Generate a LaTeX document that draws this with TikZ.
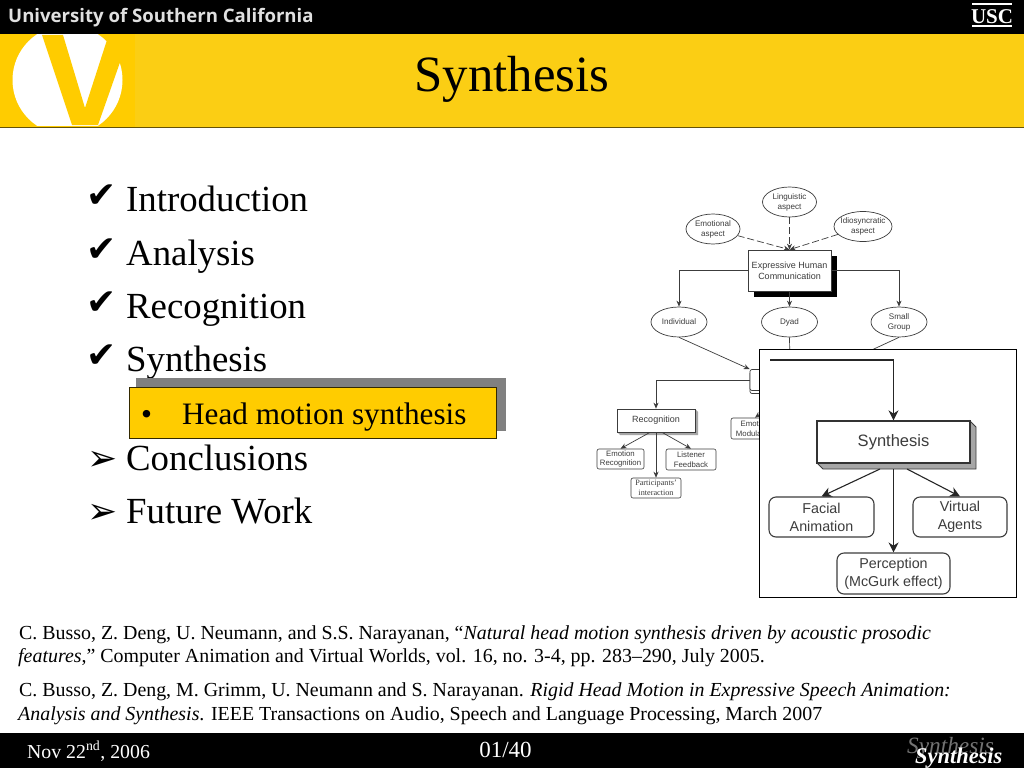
\documentclass[tikz,border=0pt]{standalone}
\usepackage{fontspec}
\setmainfont{Liberation Serif}
\newfontfamily\diagfont{Liberation Sans}
\newfontfamily\dingfont{DejaVu Sans}
\newfontfamily\bannerfont{Open Sans}
\usetikzlibrary{shapes.geometric, arrows.meta}
\definecolor{bandyellow}{HTML}{FBCE14}
\definecolor{logoyellow}{HTML}{FFCC00}
\definecolor{diagink}{HTML}{3C3C3C}
\tikzset{
  bullettext/.style={anchor=base west,font=\fontsize{36.8}{40}\selectfont},
  bulletmark/.style={anchor=base west,font=\dingfont\fontsize{36}{38}\selectfont},
  reftext/.style={anchor=base west,font=\fontsize{19.9}{22}\selectfont},
  smallell/.style={draw=diagink,line width=0.7pt,ellipse,inner xsep=-8pt,inner ysep=-4pt,align=center,text=diagink,font=\diagfont\fontsize{8.1}{10}\selectfont},
  smallbox/.style={draw=diagink,line width=0.6pt,rounded corners=2pt,inner sep=0pt,align=center,text=diagink,font=\diagfont\fontsize{7.8}{9.8}\selectfont},
  bigbox/.style={draw=diagink,line width=1.1pt,rounded corners=7pt,inner sep=0pt,align=center,text=diagink,font=\diagfont\fontsize{14.3}{18}\selectfont},
  smallarrow/.style={draw=diagink,line width=0.7pt,-{Stealth[length=6pt,width=5pt]}},
  dasharrow/.style={draw=diagink,line width=0.7pt,dash pattern=on 7pt off 3pt,-{Stealth[length=6pt,width=5pt]}},
  bigarrow/.style={draw=black!85,line width=1.1pt,-{Stealth[length=10pt,width=10pt]}}
}
\begin{document}
\begin{tikzpicture}[x=1pt,y=-1pt]
  \useasboundingbox (0,0) rectangle (1024,768);

  % Draw header band and footer band
  \fill[white] (0,0) rectangle (1024,768);
  \fill[black] (0,0) rectangle (1024,34.5);
  \fill[bandyellow] (0,34.5) rectangle (1024,127);
  \fill[logoyellow] (0,34.5) rectangle (135,127);
  \draw[black!60!bandyellow,line width=1.2pt] (0,127.5) -- (1024,127.5);
  \fill[black] (0,733) rectangle (1024,768);

  % Draw the logo
  \begin{scope}
    \clip (0,35) rectangle (135,125);
    \fill[white] (67.5,80) circle (55);
    \fill[logoyellow] (42,35) -- (63,35) -- (85,108) -- (108.6,35) -- (129.6,35) -- (98,125) -- (72,125) -- cycle;
  \end{scope}

  % Add banner texts
  \node[anchor=base west,inner sep=0pt,text=black!12,font=\bannerfont\bfseries\fontsize{18.6}{20}\selectfont] (bannertext) at (8,22.5) {University of Southern California};
  \fill[white] (972,3.5) rectangle (1012,5);
  \fill[white] (972,25.5) rectangle (1012,27.5);
  \node[anchor=base,inner sep=0pt,text=white,font=\bfseries\fontsize{21}{22}\selectfont] (usclogo) at (992,23.5) {USC};
  \node[anchor=base,inner sep=0pt,font=\fontsize{50.8}{54}\selectfont] (slidetitle) at (512,91) {Synthesis};

  % Add the bullet list
  \node[bulletmark,inner sep=0pt] (mark1) at (86,207) {✔};
  \node[bullettext,inner sep=0pt] (item1) at (126,211) {Introduction};
  \node[bulletmark,inner sep=0pt] (mark2) at (86,261) {✔};
  \node[bullettext,inner sep=0pt] (item2) at (126,265) {Analysis};
  \node[bulletmark,inner sep=0pt] (mark3) at (86,314) {✔};
  \node[bullettext,inner sep=0pt] (item3) at (126,318) {Recognition};
  \node[bulletmark,inner sep=0pt] (mark4) at (86,367) {✔};
  \node[bullettext,inner sep=0pt] (item4) at (126,371) {Synthesis};
  \node[bulletmark,inner sep=0pt] (mark5) at (87,470) {➢};
  \node[bullettext,inner sep=0pt] (item5) at (126,470) {Conclusions};
  \node[bulletmark,inner sep=0pt] (mark6) at (87,523) {➢};
  \node[bullettext,inner sep=0pt] (item6) at (126,523) {Future Work};

  % Draw the highlighted sub item
  \fill[black!50] (136,378) rectangle (506,431);
  \draw[fill=logoyellow,draw=black!80!logoyellow,line width=1pt] (129,387) rectangle (496,438);
  \node[anchor=base west,inner sep=0pt,font=\fontsize{31.2}{32}\selectfont] (subdot) at (141,424) {•};
  \node[anchor=base west,inner sep=0pt,font=\fontsize{31.2}{32}\selectfont] (subitem) at (182,424) {Head motion synthesis};

  % Draw the small diagram
  \node[smallell,minimum width=54pt,minimum height=30pt] (linguistic) at (789.5,202) {Linguistic\\aspect};
  \node[smallell,minimum width=54pt,minimum height=30pt] (emotional) at (713,229) {Emotional\\aspect};
  \node[smallell,minimum width=58pt,minimum height=30pt] (idiosyncratic) at (863,226.5) {Idiosyncratic\\aspect};
  \fill[black] (754,256) rectangle (837,297);
  \node[draw=diagink,line width=0.7pt,fill=white,minimum width=83pt,minimum height=41pt,inner sep=0pt,align=center,text=diagink,font=\diagfont\fontsize{9}{10.6}\selectfont] (human) at (789.5,270.5) {Expressive Human\\Communication};
  \node[smallell,minimum width=56pt,minimum height=30pt] (individual) at (679,322) {Individual};
  \node[smallell,minimum width=56pt,minimum height=30pt] (dyad) at (789.5,322) {Dyad};
  \node[smallell,minimum width=56pt,minimum height=30pt] (smallgroup) at (899,322) {Small\\Group};
  \node[draw=diagink,line width=0.7pt,rounded corners=2pt,minimum width=80pt,minimum height=22pt,inner sep=0pt] (centerback) at (790,382.5) {};
  \node[draw=diagink,line width=0.7pt,fill=white,rounded corners=2pt,minimum width=80pt,minimum height=21pt,inner sep=0pt] (center) at (790,380) {};
  \fill[black!35] (695,409) -- (698,412) -- (698,435) -- (620,435) -- (617,432) -- (695,432) -- cycle;
  \node[draw=diagink,line width=0.7pt,fill=white,minimum width=78pt,minimum height=23pt,inner sep=0pt,text=diagink,font=\diagfont\fontsize{9}{11}\selectfont] (recognition) at (656,420.5) {Recognition};
  \node[smallbox,minimum width=47pt,minimum height=20pt] (emorecog) at (620.5,459) {Emotion\\Recognition};
  \node[smallbox,minimum width=50pt,minimum height=21pt] (listener) at (691,459.5) {Listener\\Feedback};
  \node[smallbox,minimum width=50pt,minimum height=20pt,font=\fontsize{8.2}{10}\selectfont] (participants) at (656,488) {Participants'\\interaction};
  \node[smallbox,minimum width=48pt,minimum height=21pt] (emomod) at (755,428.5) {Emotion\\Modulation};

  % Draw the small diagram connectors
  \draw[dasharrow] (emotional) -- (human.north);
  \draw[dasharrow] (linguistic) -- (human.north);
  \draw[dasharrow] (idiosyncratic) -- (human.north);
  \draw[smallarrow] (human.west) -| (individual.north);
  \draw[smallarrow] (human.south) -- (dyad.north);
  \draw[smallarrow] (human.east) -| (smallgroup.north);
  \draw[smallarrow] (individual.south) -- (center.north west);
  \draw[draw=diagink,line width=0.7pt] (dyad.south) -- (center.north);
  \draw[draw=diagink,line width=0.7pt] (smallgroup.south) -- (center.north east);
  \draw[smallarrow] (center.west) -| (recognition.north);
  \draw[smallarrow] (center.south) -- (emomod.north);
  \draw[smallarrow] (recognition.south) ++(-6,0) -- (emorecog.north);
  \draw[smallarrow] (recognition.south) -- (participants.north);
  \draw[smallarrow] (recognition.south) ++(6,0) -- (listener.north);

  % Draw the enlarged part over the small diagram
  \draw[fill=white,draw=black,line width=0.9pt] (759.5,349.5) rectangle (1016,597);
  \coordinate (feedstart) at (770,360);
  \fill[black!35,draw=diagink,line width=0.9pt] (970,421) -- (976,427) -- (976,469) -- (823,469) -- (817,463) -- (970,463) -- cycle;
  \node[draw=black!80,fill=white,line width=1.3pt,minimum width=153pt,minimum height=42pt,inner sep=0pt,text=diagink,font=\diagfont\fontsize{16.5}{18}\selectfont] (synthesis) at (893.5,442) {Synthesis};
  \node[bigbox,minimum width=105pt,minimum height=40pt] (facial) at (821.5,517) {Facial\\Animation};
  \node[bigbox,minimum width=94pt,minimum height=40pt] (virtual) at (960,517) {Virtual\\Agents};
  \node[bigbox,minimum width=113pt,minimum height=41pt] (perception) at (893.5,573.5) {Perception\\(McGurk effect)};

  % Draw the enlarged connectors
  \coordinate (synthleft) at (880,469);
  \coordinate (synthmid) at (893.5,469);
  \coordinate (synthright) at (907,469);
  \draw[bigarrow] (feedstart) -| (synthesis.north);
  \draw[bigarrow] (synthleft) -- (facial.north);
  \draw[bigarrow] (synthmid) -- (perception.north);
  \draw[bigarrow] (synthright) -- (virtual.north);

  % Add the references
  \node[reftext,inner sep=0pt] (ref1a) at (19,639) {C. Busso, Z. Deng, U. Neumann, and S.S. Narayanan, “\textit{Natural head motion synthesis driven by acoustic prosodic}};
  \node[reftext,inner sep=0pt] (ref1b) at (18,662) {\textit{features},” Computer Animation and Virtual Worlds, vol. 16, no. 3-4, pp. 283–290, July 2005.};
  \node[reftext,inner sep=0pt] (ref2a) at (19,696) {C. Busso, Z. Deng, M. Grimm, U. Neumann and S. Narayanan. \textit{Rigid Head Motion in Expressive Speech Animation:}};
  \node[reftext,inner sep=0pt] (ref2b) at (18,720) {\textit{Analysis and Synthesis}. IEEE Transactions on Audio, Speech and Language Processing, March 2007};

  % Add footer texts
  \node[anchor=base west,inner sep=0pt,text=white,font=\fontsize{19.8}{22}\selectfont] (footdate) at (27,758) {Nov 22\textsuperscript{nd}, 2006};
  \node[anchor=base,inner sep=0pt,text=white,font=\fontsize{23}{24}\selectfont] (footpage) at (505.5,757) {01/40};
  \node[anchor=base west,inner sep=0pt,text=black!55,font=\itshape\fontsize{23.3}{25}\selectfont] (footshade) at (907,753) {Synthesis};
  \node[anchor=base west,inner sep=0pt,text=white,font=\bfseries\itshape\fontsize{22.4}{24}\selectfont] (footname) at (915,763) {Synthesis};
\end{tikzpicture}
\end{document}
